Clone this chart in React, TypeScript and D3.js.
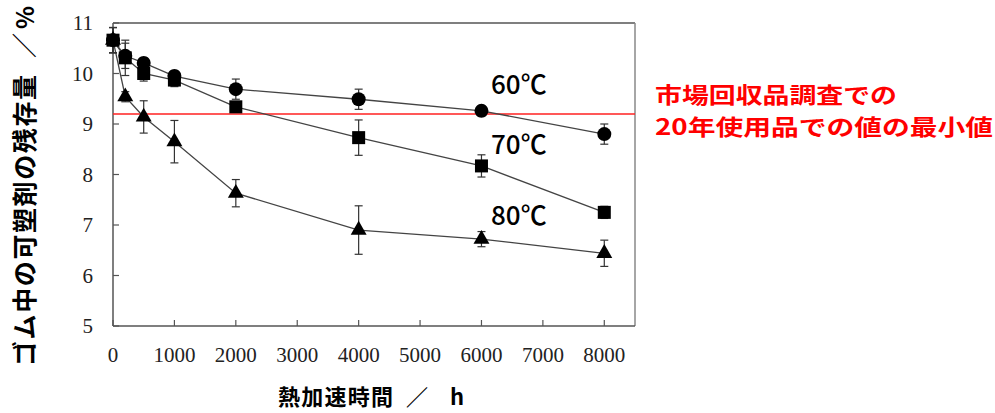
import React from "react";
import * as d3 from "d3";

// Heat-aging time (h)
const hours = [0, 200, 500, 1000, 2000, 4000, 6000, 8000];

// Residual plasticizer content (%) per aging temperature, with error half-widths
const s60 = [10.66, 10.35, 10.21, 9.95, 9.69, 9.49, 9.26, 8.8];
const e60 = [0.25, 0.25, 0.1, 0.1, 0.2, 0.2, 0.1, 0.2];
const s70 = [10.66, 10.31, 10.0, 9.87, 9.34, 8.73, 8.17, 7.25];
const e70 = [0.25, 0.35, 0.15, 0.13, 0.1, 0.35, 0.22, 0.12];
const s80 = [10.66, 9.54, 9.14, 8.65, 7.63, 6.9, 6.72, 6.44];
const e80 = [0.25, 0.1, 0.32, 0.42, 0.27, 0.48, 0.15, 0.26];

const seriesLabels = ["60℃", "70℃", "80℃"];
const labelAnchorValues = [9.6, 8.4, 7.0];

const xTicks = [0, 1000, 2000, 3000, 4000, 5000, 6000, 7000, 8000];
const yTicks = [5, 6, 7, 8, 9, 10, 11];

const referenceValue = 9.2;
const referenceNote = ["市場回収品調査での", "20年使用品での値の最小値"];

const yTitle = ["ゴム中の可塑剤の残存量", "／", "%"];
const xTitle = ["熱加速時間", "／", "h"];

type Shape = "circle" | "square" | "triangle";

export default function App() {
  const W = 995;
  const H = 413;
  const x = d3.scaleLinear().domain([0, 8500]).range([113, 635]);
  const y = d3.scaleLinear().domain([5, 11]).range([326, 23]);

  const line = d3
    .line<[number, number]>()
    .x((d) => x(d[0]))
    .y((d) => y(d[1]));

  const series: { vals: number[]; errs: number[]; shape: Shape }[] = [
    { vals: s80, errs: e80, shape: "triangle" },
    { vals: s60, errs: e60, shape: "circle" },
    { vals: s70, errs: e70, shape: "square" },
  ];

  const tri = d3.symbol().type(d3.symbolTriangle).size(110)();

  const marker = (shape: Shape, cx: number, cy: number, key: string) => {
    if (shape === "circle") return <circle key={key} cx={cx} cy={cy} r={7} fill="#000" />;
    if (shape === "square")
      return <rect key={key} x={cx - 6.5} y={cy - 6.5} width={13} height={13} fill="#000" />;
    return <path key={key} d={tri as string} transform={`translate(${cx},${cy})`} fill="#000" />;
  };

  const axisColor = "#555";
  const tickFont = "'Liberation Serif', 'Times New Roman', serif";
  const gothic = "'Noto Sans CJK JP', 'Noto Sans', sans-serif";

  return (
    <svg
      width={W}
      height={H}
      style={{ position: "absolute", left: 0, top: 0, background: "#fff" }}
    >
      {/* frame */}
      <line x1={x(0)} x2={x(8500)} y1={y(11)} y2={y(11)} stroke={axisColor} strokeWidth={1.5} />
      <line x1={x(8500)} x2={x(8500)} y1={y(11)} y2={y(5)} stroke="#888" strokeWidth={1.5} />
      <line x1={x(0)} x2={x(0)} y1={y(11)} y2={y(5)} stroke={axisColor} strokeWidth={1.5} />
      <line x1={x(0)} x2={x(8500)} y1={y(5)} y2={y(5)} stroke={axisColor} strokeWidth={1.5} />

      {/* y ticks */}
      {yTicks.map((t) => (
        <g key={`y${t}`}>
          <line x1={x(0)} x2={x(0) + 6} y1={y(t)} y2={y(t)} stroke={axisColor} strokeWidth={1.2} />
          <text
            x={93}
            y={y(t) + 7}
            textAnchor="end"
            fontFamily={tickFont}
            fontSize={21}
            fill="#222"
          >
            {t}
          </text>
        </g>
      ))}

      {/* x ticks */}
      {xTicks.map((t) => (
        <g key={`x${t}`}>
          <line x1={x(t)} x2={x(t)} y1={y(5)} y2={y(5) - 6} stroke={axisColor} strokeWidth={1.2} />
          <text
            x={x(t)}
            y={362}
            textAnchor="middle"
            fontFamily={tickFont}
            fontSize={21}
            fill="#222"
          >
            {t}
          </text>
        </g>
      ))}

      {/* reference line */}
      <line
        x1={x(0)}
        x2={x(8500)}
        y1={y(referenceValue)}
        y2={y(referenceValue)}
        stroke="#ff2020"
        strokeWidth={1.5}
      />

      {/* series lines */}
      {series.map((s, i) => (
        <path
          key={`l${i}`}
          d={line(hours.map((h, j) => [h, s.vals[j]] as [number, number])) as string}
          fill="none"
          stroke="#444"
          strokeWidth={1.3}
        />
      ))}

      {/* error bars */}
      {series.map((s, i) =>
        hours.map((h, j) => {
          const cx = x(h);
          const top = y(s.vals[j] + s.errs[j]);
          const bot = y(s.vals[j] - s.errs[j]);
          return (
            <g key={`e${i}-${j}`} stroke="#333" strokeWidth={1.2}>
              <line x1={cx} x2={cx} y1={top} y2={bot} />
              <line x1={cx - 4} x2={cx + 4} y1={top} y2={top} />
              <line x1={cx - 4} x2={cx + 4} y1={bot} y2={bot} />
            </g>
          );
        })
      )}

      {/* markers */}
      {series.map((s, i) =>
        hours.map((h, j) => marker(s.shape, x(h), y(s.vals[j]), `m${i}-${j}`))
      )}

      {/* series labels */}
      {seriesLabels.map((lab, i) => (
        <text
          key={lab}
          x={491}
          y={y(labelAnchorValues[i])}
          fontFamily={gothic}
          fontSize={26}
          fontWeight={500}
          fill="#000"
        >
          {lab}
        </text>
      ))}

      {/* reference note */}
      {referenceNote.map((t, i) => (
        <text
          key={t}
          x={655}
          y={103 + i * 32}
          fontFamily={gothic}
          fontSize={22}
          fontWeight={700}
          fill="#ff0000"
          textLength={i === 0 ? 242 : 338}
          lengthAdjust="spacingAndGlyphs"
        >
          {t}
        </text>
      ))}

      {/* y axis title, rotated */}
      <g transform="translate(34,0) rotate(-90)" fontFamily={gothic} fontWeight={700} fill="#000">
        <text x={-366} y={0} fontSize={25} textLength={291} lengthAdjust="spacing">
          {yTitle[0]}
        </text>
        <text x={-58} y={0} fontSize={25}>
          {yTitle[1]}
        </text>
        <text x={-29} y={0} fontSize={24}>
          {yTitle[2]}
        </text>
      </g>

      {/* x axis title */}
      <g fontFamily={gothic} fontWeight={700} fill="#000">
        <text x={278} y={405} fontSize={22} textLength={115} lengthAdjust="spacing">
          {xTitle[0]}
        </text>
        <text x={406} y={405} fontSize={22}>
          {xTitle[1]}
        </text>
        <text x={450} y={405} fontSize={22}>
          {xTitle[2]}
        </text>
      </g>
    </svg>
  );
}
